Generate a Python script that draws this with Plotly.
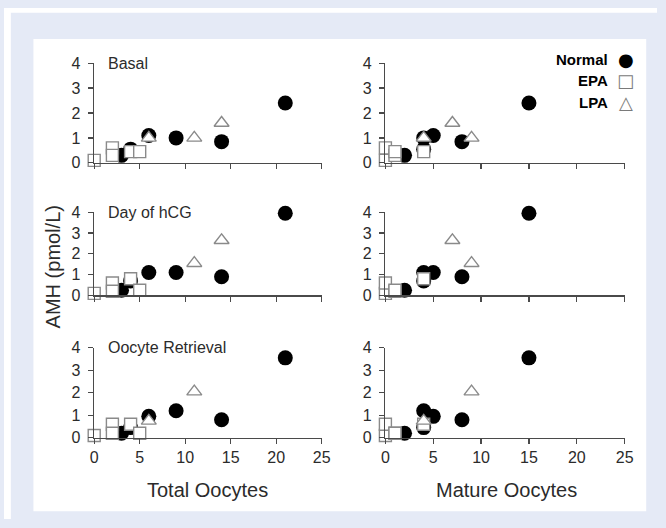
import plotly.graph_objects as go

# ---------------- data ----------------
normal_total = [3, 4, 6, 9, 14, 21]
normal_mature = [2, 4, 5, 4, 8, 15]
normal_basal = [0.3, 0.55, 1.1, 1.0, 0.85, 2.4]
normal_hcg = [0.25, 0.7, 1.1, 1.1, 0.9, 3.95]
normal_or = [0.2, 0.45, 0.95, 1.2, 0.8, 3.55]

epa_total = [0, 2, 2, 4, 5]
epa_mature = [0, 0, 1, 4, 1]
epa_basal = [0.1, 0.6, 0.3, 0.45, 0.45]
epa_hcg = [0.1, 0.6, 0.2, 0.8, 0.25]
epa_or = [0.1, 0.6, 0.2, 0.6, 0.2]

lpa_total = [6, 11, 14]
lpa_mature = [4, 9, 7]
lpa_basal = [1.0, 1.0, 1.6]
lpa_hcg = [None, 1.55, 2.65]
lpa_or = [0.75, 2.05, None]

phase_labels = ["Basal", "Day of hCG", "Oocyte Retrieval"]
x_titles = ["Total Oocytes", "Mature Oocytes"]
y_title = "AMH (pmol/L)"
legend_names = ["Normal", "EPA", "LPA"]
x_ticks = [0, 5, 10, 15, 20, 25]
y_ticks = [0, 1, 2, 3, 4]

# ---------------- layout helpers ----------------
W, H = 666, 528
def fx(p):
    return p / W
def fy(p):
    return 1 - p / H

col_px = [(92, 324), (389, 633)]
row_px = [(57, 160), (211, 297), (351, 444)]

normal_y = [normal_basal, normal_hcg, normal_or]
epa_y = [epa_basal, epa_hcg, epa_or]
lpa_y = [lpa_basal, lpa_hcg, lpa_or]
normal_x = [normal_total, normal_mature]
epa_x = [epa_total, epa_mature]
lpa_x = [lpa_total, lpa_mature]

FONT = "Liberation Sans, Arial, sans-serif"
AX = "#4a4a4a"
TXT = "#2b2b2b"

fig = go.Figure()
layout = dict(
    width=W, height=H,
    margin=dict(l=0, r=0, t=0, b=0),
    paper_bgcolor="#e5eaf6",
    plot_bgcolor="rgba(0,0,0,0)",
    showlegend=False,
    font=dict(family=FONT, color=TXT),
)

annotations = []
for r in range(3):
    for c in range(2):
        i = r * 2 + c + 1
        xa = "x" if i == 1 else f"x{i}"
        ya = "y" if i == 1 else f"y{i}"
        xkey = "xaxis" if i == 1 else f"xaxis{i}"
        ykey = "yaxis" if i == 1 else f"yaxis{i}"
        layout[xkey] = dict(
            domain=[fx(col_px[c][0]), fx(col_px[c][1])],
            range=[0, 25], anchor=ya,
            tickmode="array", tickvals=x_ticks,
            showticklabels=(r == 2),
            ticks="outside", ticklen=5, tickwidth=1.3, tickcolor=AX,
            showline=True, linecolor=AX, linewidth=1.5,
            showgrid=False, zeroline=False,
            tickfont=dict(size=16, color=TXT, family=FONT),
            fixedrange=True,
        )
        layout[ykey] = dict(
            domain=[fy(row_px[r][1]), fy(row_px[r][0])],
            range=[0, 4], anchor=xa,
            tickmode="array", tickvals=y_ticks,
            ticks="outside", ticklen=5, tickwidth=1.3, tickcolor=AX,
            showline=True, linecolor=AX, linewidth=1.5,
            showgrid=False, zeroline=False,
            tickfont=dict(size=16, color=TXT, family=FONT),
            ticklabelstandoff=4,
            fixedrange=True,
        )
        fig.add_trace(go.Scatter(
            x=normal_x[c], y=normal_y[r], xaxis=xa, yaxis=ya,
            mode="markers", cliponaxis=False, name=legend_names[0],
            marker=dict(symbol="circle", size=15, color="black",
                        line=dict(color="black", width=0)),
        ))
        fig.add_trace(go.Scatter(
            x=epa_x[c], y=epa_y[r], xaxis=xa, yaxis=ya,
            mode="markers", cliponaxis=False, name=legend_names[1],
            marker=dict(symbol="square", size=12, color="white",
                        line=dict(color="#8a8a8a", width=1.4)),
        ))
        fig.add_trace(go.Scatter(
            x=lpa_x[c], y=lpa_y[r], xaxis=xa, yaxis=ya,
            mode="markers", cliponaxis=False, name=legend_names[2],
            marker=dict(symbol="triangle-up", size=13, color="white",
                        line=dict(color="#8a8a8a", width=1.4)),
        ))
        if c == 0:
            annotations.append(dict(
                text=phase_labels[r], xref=f"{xa} domain", yref=f"{ya} domain",
                x=0.05, y=1.0, xanchor="left", yanchor="middle",
                showarrow=False, font=dict(size=16, color=TXT, family=FONT),
            ))

# axis titles
annotations.append(dict(text=x_titles[0], xref="paper", yref="paper",
                        x=fx(208), y=fy(498), xanchor="center", yanchor="middle",
                        showarrow=False, font=dict(size=20, color=TXT, family=FONT)))
annotations.append(dict(text=x_titles[1], xref="paper", yref="paper",
                        x=fx(512), y=fy(498), xanchor="center", yanchor="middle",
                        showarrow=False, font=dict(size=20, color=TXT, family=FONT)))
annotations.append(dict(text=y_title, xref="paper", yref="paper",
                        x=fx(50), y=fy(268), xanchor="center", yanchor="middle",
                        textangle=-90, showarrow=False,
                        font=dict(size=20, color=TXT, family=FONT)))

# legend (text to the left of symbol)
leg_y = [53, 75, 98]
leg_sym = ["\u25CF", "\u25A1", "\u25B3"]
leg_sym_color = ["black", "#7a7a7a", "#7a7a7a"]
for k in range(3):
    annotations.append(dict(text=f"<b>{legend_names[k]}</b>", xref="paper", yref="paper",
                            x=fx(618), y=fy(leg_y[k]), xanchor="right", yanchor="middle",
                            showarrow=False, font=dict(size=15, color="black", family=FONT)))
    annotations.append(dict(text=leg_sym[k], xref="paper", yref="paper",
                            x=fx(634), y=fy(leg_y[k]), xanchor="center", yanchor="middle",
                            showarrow=False,
                            font=dict(size=18, color=leg_sym_color[k], family="DejaVu Sans")))

layout["annotations"] = annotations
layout["shapes"] = [
    dict(type="rect", xref="paper", yref="paper", x0=fx(30), x1=fx(655),
         y0=fy(520), y1=fy(32), fillcolor="white", line=dict(width=0), layer="below"),
    dict(type="rect", xref="paper", yref="paper", x0=0, x1=fx(7),
         y0=0, y1=1, fillcolor="white", line=dict(width=0), layer="below"),
    dict(type="rect", xref="paper", yref="paper", x0=0, x1=1,
         y0=fy(5), y1=1, fillcolor="white", line=dict(width=0), layer="below"),
]

fig.update_layout(**layout)
fig.write_html(
    "out.html",
    config={"displayModeBar": False, "staticPlot": True},
    post_script="document.body.style.margin='0';document.body.style.padding='0';"
                "document.body.style.overflow='hidden';"
                "document.documentElement.style.overflow='hidden';",
)
